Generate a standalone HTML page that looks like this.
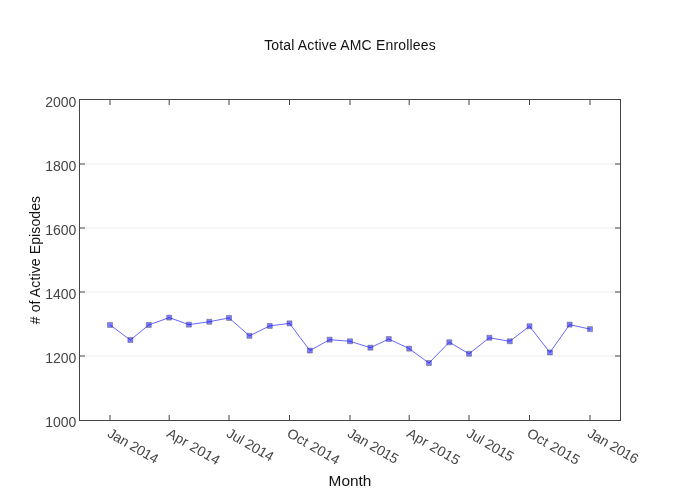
<!DOCTYPE html>
<html><head><meta charset="utf-8"><title>Total Active AMC Enrollees</title>
<style>
html,body{margin:0;padding:0;background:#fff;}
body{width:700px;height:500px;overflow:hidden;font-family:"Liberation Sans",sans-serif;}
svg{display:block;will-change:transform;font-family:"Liberation Sans",sans-serif;font-size:14px;}
</style></head><body>
<svg width="700" height="500" viewBox="0 0 700 500">
<rect x="0" y="0" width="700" height="500" fill="#fff"/>
<g stroke="#eee" stroke-width="1" fill="none"><path d="M80,356h540"/><path d="M80,292h540"/><path d="M80,228h540"/><path d="M80,164h540"/></g>
<g stroke="#444" stroke-width="1" fill="none"><path d="M110.00,420v-5"/><path d="M169.18,420v-5"/><path d="M229.01,420v-5"/><path d="M289.51,420v-5"/><path d="M350.00,420v-5"/><path d="M409.18,420v-5"/><path d="M469.01,420v-5"/><path d="M529.51,420v-5"/><path d="M590.00,420v-5"/><path d="M110.00,100v5"/><path d="M169.18,100v5"/><path d="M229.01,100v5"/><path d="M289.51,100v5"/><path d="M350.00,100v5"/><path d="M409.18,100v5"/><path d="M469.01,100v5"/><path d="M529.51,100v5"/><path d="M590.00,100v5"/><path d="M80,356h5"/><path d="M620,356h-5"/><path d="M80,292h5"/><path d="M620,292h-5"/><path d="M80,228h5"/><path d="M620,228h-5"/><path d="M80,164h5"/><path d="M620,164h-5"/></g>
<g fill="none" stroke="#0000ff" stroke-opacity="0.6" stroke-width="1"><path d="M110.00,324.96L130.38,340.00L148.79,324.96L169.18,317.60L188.90,324.64L209.29,321.76L229.01,317.92L249.40,335.84L269.78,325.92L289.51,323.36L309.89,350.56L329.62,339.68L350.00,341.28L370.38,347.68L388.79,339.04L409.18,348.64L428.90,363.04L449.29,342.24L469.01,353.76L489.40,337.76L509.78,341.28L529.51,326.24L549.89,352.48L569.62,324.64L590.00,329.12"/></g>
<g fill="#0000ff" fill-opacity="0.5" stroke="#444" stroke-opacity="0.4" stroke-width="1"><path d="M2.5,2.5H-2.5V-2.5H2.5Z" transform="translate(110.00,324.96)"/><path d="M2.5,2.5H-2.5V-2.5H2.5Z" transform="translate(130.38,340.00)"/><path d="M2.5,2.5H-2.5V-2.5H2.5Z" transform="translate(148.79,324.96)"/><path d="M2.5,2.5H-2.5V-2.5H2.5Z" transform="translate(169.18,317.60)"/><path d="M2.5,2.5H-2.5V-2.5H2.5Z" transform="translate(188.90,324.64)"/><path d="M2.5,2.5H-2.5V-2.5H2.5Z" transform="translate(209.29,321.76)"/><path d="M2.5,2.5H-2.5V-2.5H2.5Z" transform="translate(229.01,317.92)"/><path d="M2.5,2.5H-2.5V-2.5H2.5Z" transform="translate(249.40,335.84)"/><path d="M2.5,2.5H-2.5V-2.5H2.5Z" transform="translate(269.78,325.92)"/><path d="M2.5,2.5H-2.5V-2.5H2.5Z" transform="translate(289.51,323.36)"/><path d="M2.5,2.5H-2.5V-2.5H2.5Z" transform="translate(309.89,350.56)"/><path d="M2.5,2.5H-2.5V-2.5H2.5Z" transform="translate(329.62,339.68)"/><path d="M2.5,2.5H-2.5V-2.5H2.5Z" transform="translate(350.00,341.28)"/><path d="M2.5,2.5H-2.5V-2.5H2.5Z" transform="translate(370.38,347.68)"/><path d="M2.5,2.5H-2.5V-2.5H2.5Z" transform="translate(388.79,339.04)"/><path d="M2.5,2.5H-2.5V-2.5H2.5Z" transform="translate(409.18,348.64)"/><path d="M2.5,2.5H-2.5V-2.5H2.5Z" transform="translate(428.90,363.04)"/><path d="M2.5,2.5H-2.5V-2.5H2.5Z" transform="translate(449.29,342.24)"/><path d="M2.5,2.5H-2.5V-2.5H2.5Z" transform="translate(469.01,353.76)"/><path d="M2.5,2.5H-2.5V-2.5H2.5Z" transform="translate(489.40,337.76)"/><path d="M2.5,2.5H-2.5V-2.5H2.5Z" transform="translate(509.78,341.28)"/><path d="M2.5,2.5H-2.5V-2.5H2.5Z" transform="translate(529.51,326.24)"/><path d="M2.5,2.5H-2.5V-2.5H2.5Z" transform="translate(549.89,352.48)"/><path d="M2.5,2.5H-2.5V-2.5H2.5Z" transform="translate(569.62,324.64)"/><path d="M2.5,2.5H-2.5V-2.5H2.5Z" transform="translate(590.00,329.12)"/></g>
<rect x="79.5" y="99.5" width="541" height="321" fill="none" stroke="#444" stroke-width="1"/>
<g fill="#444"><text x="110.00" y="437" letter-spacing="-0.22" transform="rotate(30,110.00,430)">Jan 2014</text><text x="169.18" y="437" letter-spacing="0.25" transform="rotate(30,169.18,430)">Apr 2014</text><text x="229.01" y="437" letter-spacing="-0.18" transform="rotate(30,229.01,430)">Jul 2014</text><text x="289.51" y="437" letter-spacing="0.19" transform="rotate(30,289.51,430)">Oct 2014</text><text x="350.00" y="437" letter-spacing="-0.22" transform="rotate(30,350.00,430)">Jan 2015</text><text x="409.18" y="437" letter-spacing="0.25" transform="rotate(30,409.18,430)">Apr 2015</text><text x="469.01" y="437" letter-spacing="-0.18" transform="rotate(30,469.01,430)">Jul 2015</text><text x="529.51" y="437" letter-spacing="0.19" transform="rotate(30,529.51,430)">Oct 2015</text><text x="590.00" y="437" letter-spacing="-0.22" transform="rotate(30,590.00,430)">Jan 2016</text><text x="76.3" y="427" text-anchor="end">1000</text><text x="76.3" y="363" text-anchor="end">1200</text><text x="76.3" y="299" text-anchor="end">1400</text><text x="76.3" y="235" text-anchor="end">1600</text><text x="76.3" y="171" text-anchor="end">1800</text><text x="76.3" y="107" text-anchor="end">2000</text></g>
<text x="350" y="50" text-anchor="middle" fill="#111" letter-spacing="0.17">Total Active AMC Enrollees</text>
<text x="0" y="0" text-anchor="middle" fill="#111" transform="translate(350,486) scale(1.1,1)">Month</text>
<text x="40" y="260" text-anchor="middle" fill="#111" letter-spacing="0.12" transform="rotate(-90,40,260)"># of Active Episodes</text>
</svg>
</body></html>
